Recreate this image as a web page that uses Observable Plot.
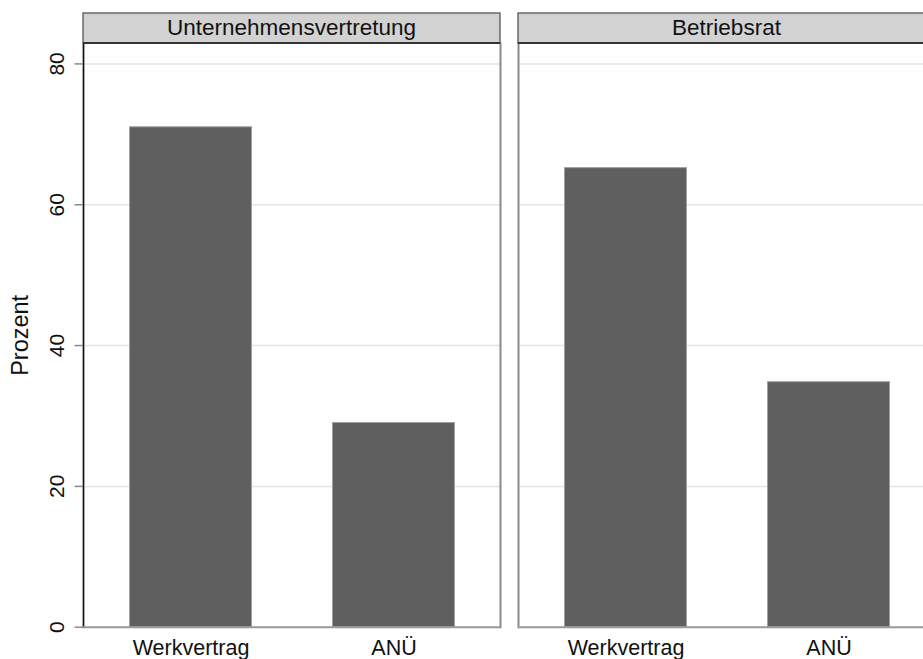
<!DOCTYPE html>
<html>
<head>
<meta charset="utf-8">
<script src="https://cdn.jsdelivr.net/npm/d3@7"></script>
<script src="https://cdn.jsdelivr.net/npm/@observablehq/plot@0.6"></script>
<style>
  html, body { margin: 0; padding: 0; background: #fff; overflow: hidden; }
  #chart svg { display: block; max-width: none !important; height: 659px !important; }
</style>
</head>
<body>
<div id="chart"></div>
<script>
const panels = ["Unternehmensvertretung", "Betriebsrat"];
const categories = ["Werkvertrag", "ANÜ"];
const valuesUnternehmensvertretung = [71.0, 29.0];
const valuesBetriebsrat = [65.2, 34.8];
const yTicks = [0, 20, 40, 60, 80];
const yLabel = "Prozent";

const seriesByPanel = [valuesUnternehmensvertretung, valuesBetriebsrat];
const data = panels.flatMap((p, i) =>
  categories.map((c, j) => ({ panel: p, cat: c, value: seriesByPanel[i][j] }))
);

const font = "'Liberation Sans', Arial, Helvetica, sans-serif";

const plot = Plot.plot({
  width: 935,
  height: 659,
  marginTop: 43,
  marginBottom: 32.3,
  marginLeft: 82.5,
  marginRight: 0,
  style: { fontFamily: font, background: "#fff", color: "#111" },
  fx: { domain: panels, paddingInner: 0.0407, paddingOuter: 0, axis: null, label: null },
  x: { domain: categories, paddingInner: 0.4, paddingOuter: 0.226, label: null },
  y: { domain: [0, 82.9], label: null },
  marks: [
    Plot.gridY(yTicks.filter(d => d > 0), { stroke: "#e4e4e4", strokeOpacity: 1, strokeWidth: 1.5 }),
    Plot.barY(data, { fx: "panel", x: "cat", y: "value", fill: "#5f5f5f", stroke: "#a0a0a0", strokeWidth: 1 }),
    Plot.frame({ anchor: "right", stroke: "#8a8a8a", strokeWidth: 2 }),
    Plot.frame({ anchor: "left", stroke: "#8a8a8a", strokeWidth: 2 }),
    Plot.frame({ anchor: "left", stroke: "#111", strokeWidth: 1.3, facetAnchor: "left" }),
    Plot.ruleY([0], { stroke: "#999", strokeWidth: 2 }),
    Plot.axisY({
      ticks: yTicks, tickSize: 8.5, tickPadding: 11, tickRotate: -90,
      fontSize: 21, stroke: "#8a8a8a", strokeWidth: 1.5, fill: "#111",
      label: yLabel, labelAnchor: "center", labelArrow: "none", labelOffset: 72
    }),
    Plot.axisX({ tickSize: 0, tickPadding: 12.4, fontSize: 21.5, fill: "#111", label: null })
  ]
});

document.getElementById("chart").appendChild(plot);

// Facet header strips drawn from the fx scale
const svg = d3.select(plot);
const fx = plot.scale("fx");
svg.selectAll("[aria-label='y-axis label'] text, g[aria-label='y-axis label']").style("font-size", "23.5px");
const strip = svg.append("g").attr("class", "strips");
panels.forEach(p => {
  const x0 = fx.apply(p);
  const bw = fx.bandwidth;
  strip.append("rect")
    .attr("x", x0).attr("y", 13).attr("width", bw).attr("height", 30)
    .attr("fill", "#d2d2d2").attr("stroke", "#555").attr("stroke-width", 1.3);
  strip.append("line")
    .attr("x1", x0).attr("x2", x0 + bw).attr("y1", 43).attr("y2", 43)
    .attr("stroke", "#333").attr("stroke-width", 2);
  strip.append("text")
    .attr("x", x0 + bw / 2).attr("y", 35)
    .attr("text-anchor", "middle")
    .style("font-family", font).style("font-size", "22.5px").attr("fill", "#111")
    .text(p);
});
</script>
</body>
</html>
